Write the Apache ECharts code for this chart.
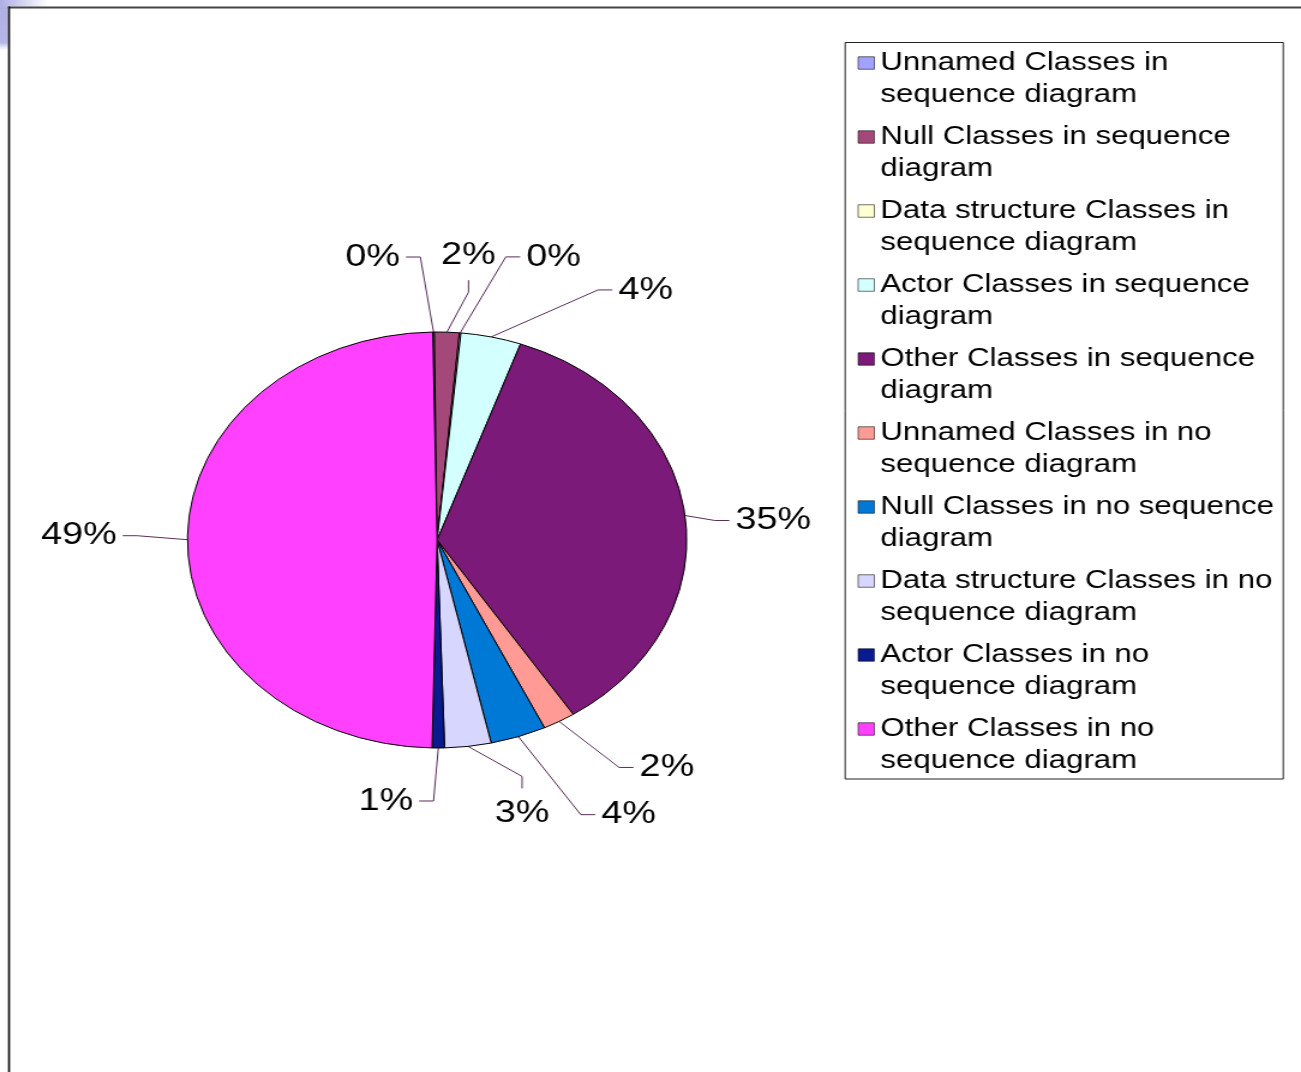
<!DOCTYPE html>
<html>
<head>
<meta charset="utf-8">
<title>Classes in sequence diagrams</title>
<script src="https://cdn.jsdelivr.net/npm/echarts@6/dist/echarts.min.js"></script>
<style>
  html, body { margin: 0; padding: 0; background: #ffffff; overflow: hidden; }
  /* the chart is laid out on a narrower canvas and stretched sideways */
  #chart {
    position: absolute; left: 0; top: 0;
    width: 1084px; height: 1072px;
    transform: scaleX(1.2002); transform-origin: 0 0;
  }
</style>
</head>
<body>
<div id="chart"></div>
<script>
// Class categories (legend wording, wrapped onto two lines)
const categories = [
  'Unnamed Classes in\nsequence diagram',
  'Null Classes in sequence\ndiagram',
  'Data structure Classes in\nsequence diagram',
  'Actor Classes in sequence\ndiagram',
  'Other Classes in sequence\ndiagram',
  'Unnamed Classes in no\nsequence diagram',
  'Null Classes in no sequence\ndiagram',
  'Data structure Classes in no\nsequence diagram',
  'Actor Classes in no\nsequence diagram',
  'Other Classes in no\nsequence diagram'
];

// Share of all classes, in percent
const shareValues = [0.1, 1.6, 0.1, 3.9, 35.4, 2.1, 3.6, 3.0, 0.8, 49.4];

// Slice fills
const sliceColors = [
  '#a3a3ff', '#a4487a', '#ffffd4', '#d4ffff', '#7b1a78',
  '#ff9a94', '#0079d6', '#d6d6ff', '#0a1a8f', '#ff40ff'
];

// Leader lines: bend offset from the slice edge and the side the label sits on
const leaderBends = [
  [-11, -75, 'left'],
  [18, -40, 'up'],
  [38, -76, 'right'],
  [89, -47, 'right'],
  [25, 5, 'right'],
  [50, 46, 'right'],
  [52, 78, 'right'],
  [45, 30, 'down'],
  [-4, 53, 'left'],
  [-42, -4, 'left']
];
const TAIL = 12;
const GAP = 5;

const FONT = '"Liberation Sans", Arial, Helvetica, sans-serif';

const chart = echarts.init(document.getElementById('chart'), null, { renderer: 'canvas' });

const pieData = categories.map((name, i) => ({ name: name, value: shareValues[i] }));

chart.setOption({
  animation: false,
  color: sliceColors,
  graphic: [
    {
      type: 'rect', silent: true,
      shape: { x: 0, y: 0, width: 6.6, height: 50 },
      style: {
        fill: new echarts.graphic.LinearGradient(0, 0, 0, 1, [
          { offset: 0, color: '#aeaee4' },
          { offset: 0.85, color: '#b6b6e8' },
          { offset: 1, color: 'rgba(190,190,236,0)' }
        ])
      }
    },
    {
      type: 'rect', silent: true,
      shape: { x: 0, y: 0, width: 40, height: 6.5 },
      style: {
        fill: new echarts.graphic.LinearGradient(0, 0, 1, 0, [
          { offset: 0, color: '#aeaee4' },
          { offset: 1, color: '#ffffff' }
        ])
      }
    },
    {
      type: 'line', silent: true,
      shape: { x1: 6.7, y1: 7.5, x2: 1084, y2: 7.5 },
      style: { stroke: '#444444', lineWidth: 2 }
    },
    {
      type: 'line', silent: true,
      shape: { x1: 7.5, y1: 6.5, x2: 7.5, y2: 1072 },
      style: { stroke: '#111111', lineWidth: 1.7 }
    },
    {
      type: 'rect', silent: true,
      shape: { x: 704.2, y: 42.5, width: 365, height: 736.5 },
      style: { fill: null, stroke: '#222222', lineWidth: 1 }
    }
  ],
  legend: {
    orient: 'vertical',
    left: 714.5,
    top: 15,
    padding: 0,
    itemGap: -22,
    itemWidth: 13.5,
    itemHeight: 12.5,
    icon: 'rect',
    selectedMode: false,
    data: categories,
    formatter: function (name) { return '\n' + name; },
    itemStyle: { borderColor: 'rgba(0,0,0,0.55)', borderWidth: 1 },
    textStyle: { fontSize: 26, lineHeight: 32, color: '#000000', fontFamily: FONT }
  },
  series: [
    {
      type: 'pie',
      center: [364.2, 540],
      radius: 208,
      startAngle: 91,
      clockwise: true,
      avoidLabelOverlap: false,
      silent: true,
      data: pieData,
      itemStyle: { borderColor: '#000000', borderWidth: 1 },
      emphasis: { disabled: true },
      label: {
        show: true,
        position: 'outside',
        formatter: function (p) { return Math.round(p.percent) + '%'; },
        fontSize: 31.5,
        color: '#000000',
        fontFamily: FONT
      },
      labelLine: {
        show: true,
        length: 20,
        length2: 12,
        lineStyle: { color: '#5a2d5a', width: 1 }
      },
      labelLayout: function (p) {
        const pts = p.labelLinePoints;
        const spec = leaderBends[p.dataIndex];
        if (!pts || !spec) { return {}; }
        const ax = pts[0][0], ay = pts[0][1];
        const bx = ax + spec[0], by = ay + spec[1];
        let ex = bx, ey = by, lx, ly, align = 'center';
        if (spec[2] === 'left') {
          ex = bx - TAIL; lx = ex - GAP; ly = ey; align = 'right';
        } else if (spec[2] === 'right') {
          ex = bx + TAIL; lx = ex + GAP; ly = ey; align = 'left';
        } else if (spec[2] === 'up') {
          ey = by - TAIL; lx = ex; ly = ey - 25;
        } else {
          ey = by + TAIL; lx = ex; ly = ey + 25;
        }
        return {
          x: lx, y: ly, align: align, verticalAlign: 'middle',
          labelLinePoints: [[ax, ay], [bx, by], [ex, ey]]
        };
      }
    }
  ]
});
</script>
</body>
</html>
